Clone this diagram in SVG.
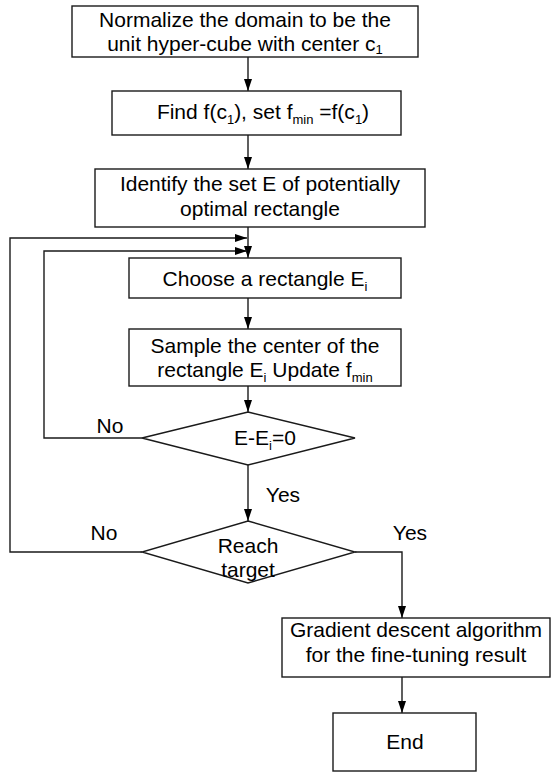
<svg xmlns="http://www.w3.org/2000/svg" width="552" height="772" viewBox="0 0 552 772">
<style>
  .box { fill: #ffffff; stroke: #1a1a1a; stroke-width: 1.4; }
  .t { font-family: "Liberation Sans", Arial, sans-serif; font-size: 21px; fill: #000000; text-anchor: middle; }
  .sub { font-size: 13px; }
  .conn { fill: none; stroke: #1a1a1a; stroke-width: 1.4; }
</style>
<defs>
  <marker id="arrow" markerUnits="userSpaceOnUse" markerWidth="12" markerHeight="8" refX="12" refY="4" orient="auto">
    <path d="M0,0 L12,4 L0,8 Z" fill="#000000"/>
  </marker>
</defs>
<rect x="0" y="0" width="552" height="772" fill="#ffffff"/>

<g id="connectors">
  <line class="conn" x1="248" y1="57" x2="248" y2="91" marker-end="url(#arrow)"/>
  <line class="conn" x1="248" y1="135" x2="248" y2="169" marker-end="url(#arrow)"/>
  <line class="conn" x1="248" y1="227" x2="248" y2="258" marker-end="url(#arrow)"/>
  <line class="conn" x1="248" y1="298" x2="248" y2="329" marker-end="url(#arrow)"/>
  <line class="conn" x1="248" y1="386" x2="248" y2="412" marker-end="url(#arrow)"/>
  <line class="conn" x1="248" y1="465" x2="248" y2="521" marker-end="url(#arrow)"/>
  <polyline class="conn" points="142,438 44,438 44,251 247,251" marker-end="url(#arrow)"/>
  <polyline class="conn" points="142,552 10,552 10,238 247,238" marker-end="url(#arrow)"/>
  <polyline class="conn" points="355,552 402,552 402,618" marker-end="url(#arrow)"/>
  <line class="conn" x1="402" y1="677" x2="402" y2="713" marker-end="url(#arrow)"/>
  <text class="t" x="110" y="433">No</text>
  <text class="t" x="104" y="540">No</text>
  <text class="t" x="283" y="502">Yes</text>
  <text class="t" x="410" y="540">Yes</text>
</g>

<g id="node-normalize">
  <rect class="box" x="72" y="6" width="346" height="51"/>
  <text class="t" x="245" y="27">Normalize the domain to be the</text>
  <text class="t" x="245" y="51">unit hyper-cube with center c<tspan class="sub" dy="3">1</tspan></text>
</g>

<g id="node-find">
  <rect class="box" x="112" y="91" width="289" height="44"/>
  <text class="t" x="263" y="119">Find f(c<tspan class="sub" dy="5">1</tspan><tspan dy="-5">), set f</tspan><tspan class="sub" dy="5">min</tspan><tspan dy="-5"> =f(c</tspan><tspan class="sub" dy="5">1</tspan><tspan dy="-5">)</tspan></text>
</g>

<g id="node-identify">
  <rect class="box" x="95" y="169" width="330" height="58"/>
  <text class="t" x="260" y="191">Identify the set E of potentially</text>
  <text class="t" x="260" y="216">optimal rectangle</text>
</g>

<g id="node-choose">
  <rect class="box" x="129" y="258" width="272" height="40"/>
  <text class="t" x="265" y="286">Choose a rectangle E<tspan class="sub" dy="5">i</tspan></text>
</g>

<g id="node-sample">
  <rect class="box" x="129" y="329" width="272" height="57"/>
  <text class="t" x="265" y="353">Sample the center of the</text>
  <text class="t" x="265" y="377">rectangle E<tspan class="sub" dy="5">i</tspan><tspan dy="-5"> Update f</tspan><tspan class="sub" dy="5">min</tspan></text>
</g>

<g id="node-decision-e">
  <polygon class="box" points="248,412 355,438 248,465 142,438"/>
  <text class="t" x="265" y="445">E-E<tspan class="sub" dy="5">i</tspan><tspan dy="-5">=0</tspan></text>
</g>

<g id="node-reach">
  <polygon class="box" points="248,521 355,552 248,583 142,552"/>
  <text class="t" x="248" y="553">Reach</text>
  <text class="t" x="248" y="577">target</text>
</g>

<g id="node-gradient">
  <rect class="box" x="282" y="618" width="268" height="59"/>
  <text class="t" x="416" y="637">Gradient descent algorithm</text>
  <text class="t" x="416" y="662">for the fine-tuning result</text>
</g>

<g id="node-end">
  <rect class="box" x="333" y="713" width="143" height="58"/>
  <text class="t" x="405" y="749">End</text>
</g>
</svg>
